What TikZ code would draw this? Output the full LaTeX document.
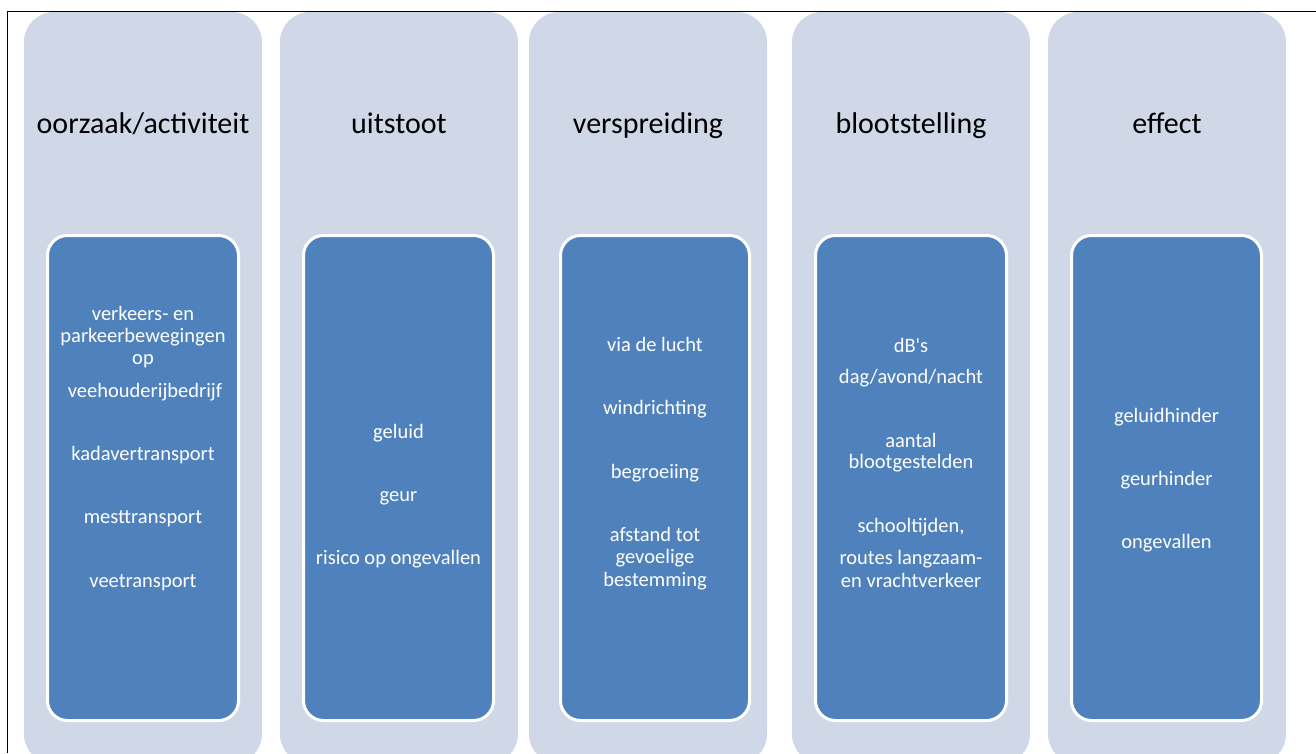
\documentclass[tikz,border=0pt]{standalone}
\usepackage{fontspec}
\setmainfont{Carlito}[Ligatures=TeXOff]
\definecolor{outerfill}{HTML}{D0D8E8}
\definecolor{innerfill}{HTML}{4F81BD}
\tikzset{
  outerbox/.style={fill=outerfill, draw=none, rounded corners=30pt, inner sep=0pt, outer sep=0pt, minimum width=238pt, minimum height=752pt},
  innerbox/.style={fill=innerfill, draw=white, line width=3pt, rounded corners=20pt, inner sep=0pt, outer sep=0pt, minimum height=485pt},
  titletext/.style={anchor=base, inner sep=0pt, font=\fontsize{30}{36}\selectfont, text=black},
  itemtext/.style={anchor=base, inner sep=0pt, font=\fontsize{20.5}{24}\selectfont, text=white},
}
\begin{document}
\begin{tikzpicture}[x=1pt,y=-1pt]
\useasboundingbox (0,0) rectangle (1316,753);
\fill[white] (0,0) rectangle (1316,753);
\begin{scope}
\clip (0,0) rectangle (1316,753);
% outer columns
\node[outerbox] (c1) at (143,388) {};
\node[outerbox] (c2) at (399,388) {};
\node[outerbox] (c3) at (648,388) {};
\node[outerbox] (c4) at (911,388) {};
\node[outerbox] (c5) at (1167,388) {};
\end{scope}
% frame
\draw[line width=1pt] (7.5,753) -- (7.5,11) -- (1316,11);
% inner boxes
\node[innerbox, minimum width=191pt] (i1) at (143,478) {};
\node[innerbox, minimum width=190pt] (i2) at (398.5,478) {};
\node[innerbox, minimum width=189pt] (i3) at (655,478) {};
\node[innerbox, minimum width=191pt] (i4) at (911,478) {};
\node[innerbox, minimum width=190pt] (i5) at (1166.5,478) {};
% titles
\node[titletext] (t1) at (143,133) {oorzaak/activiteit};
\node[titletext] (t2) at (399,133) {uitstoot};
\node[titletext] (t3) at (648,133) {verspreiding};
\node[titletext] (t4) at (911,133) {blootstelling};
\node[titletext] (t5) at (1167,133) {effect};
% column 1
\node[itemtext] (a1) at (143,320) {verkeers- en};
\node[itemtext] (a2) at (143,342) {parkeerbewegingen};
\node[itemtext] (a3) at (143,364) {op};
\node[itemtext] (a4) at (145,397) {veehouderijbedrijf};
\node[itemtext] (a5) at (143,460) {kadavertransport};
\node[itemtext] (a6) at (143,523) {mesttransport};
\node[itemtext] (a7) at (143,587) {veetransport};
% column 2
\node[itemtext] (b1) at (398.5,438) {geluid};
\node[itemtext] (b2) at (398.5,501) {geur};
\node[itemtext] (b3) at (398.5,564) {risico op ongevallen};
% column 3
\node[itemtext] (d1) at (655,351) {via de lucht};
\node[itemtext] (d2) at (655,414) {windrichting};
\node[itemtext] (d3) at (655,478) {begroeiing};
\node[itemtext] (d4) at (655,541) {afstand tot};
\node[itemtext] (d5) at (655,563) {gevoelige};
\node[itemtext] (d6) at (655,586) {bestemming};
% column 4
\node[itemtext] (e1) at (911,352) {dB's};
\node[itemtext] (e2) at (911,383) {dag/avond/nacht};
\node[itemtext] (e3) at (911,447) {aantal};
\node[itemtext] (e4) at (911,468) {blootgestelden};
\node[itemtext] (e5) at (911,532) {schooltijden,};
\node[itemtext] (e6) at (911,564) {routes langzaam-};
\node[itemtext] (e7) at (911,587) {en vrachtverkeer};
% column 5
\node[itemtext] (f1) at (1166.5,422) {geluidhinder};
\node[itemtext] (f2) at (1166.5,485) {geurhinder};
\node[itemtext] (f3) at (1166.5,548) {ongevallen};
\end{tikzpicture}
\end{document}
